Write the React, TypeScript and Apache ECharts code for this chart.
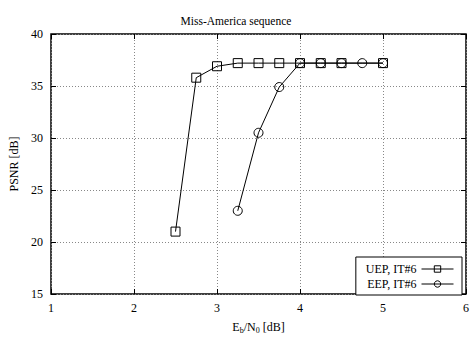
import React, { useEffect, useRef } from "react";
import * as echarts from "echarts";

const uepX = [2.5, 2.75, 3, 3.25, 3.5, 3.75, 4, 4.25, 4.5, 5];
const uepY = [21, 35.8, 36.9, 37.2, 37.2, 37.2, 37.2, 37.2, 37.2, 37.2];
const eepX = [3.25, 3.5, 3.75, 4, 4.25, 4.5, 4.75, 5];
const eepY = [23, 30.5, 34.9, 37.2, 37.2, 37.2, 37.2, 37.2];

const FONT = "'Liberation Serif', 'Times New Roman', serif";

export default function App() {
  const ref = useRef<HTMLDivElement>(null);
  useEffect(() => {
    const chart = echarts.init(ref.current!, null, { renderer: "svg" });
    const axisCommon = {
      axisLine: { show: false },
      axisTick: { show: true, inside: true, length: 5, lineStyle: { color: "#000" } },
    };
    const grid = { show: true, lineStyle: { color: "#888", type: [1, 2], width: 1 } };
    chart.setOption({
      animation: false,
      backgroundColor: "#fff",
      title: {
        text: "Miss-America sequence",
        left: "center",
        top: 10,
        textStyle: { fontFamily: FONT, fontSize: 11.5, fontWeight: "normal", color: "#000" },
      },
      grid: { left: 51, right: 2, top: 34, bottom: 42, show: true, borderColor: "#000", borderWidth: 1.5 },
      legend: {
        right: 10,
        bottom: 44,
        orient: "vertical",
        align: "right",
        itemWidth: 32,
        itemHeight: 8,
        itemGap: 3,
        padding: [6, 8, 5, 10],
        borderColor: "#000",
        borderWidth: 1,
        backgroundColor: "#fff",
        lineStyle: { width: 1 },
        itemStyle: { borderWidth: 1 },
        textStyle: { fontFamily: FONT, fontSize: 12, color: "#000" },
        data: ["UEP, IT#6", "EEP, IT#6"],
      },
      xAxis: [
        {
          type: "value",
          min: 1,
          max: 6,
          interval: 1,
          ...axisCommon,
          name: "{a|E}{s|b}{a|/N}{s|0}{a| [dB]}",
          nameLocation: "middle",
          nameGap: 26,
          nameTextStyle: {
            rich: {
              a: { fontFamily: FONT, fontSize: 12, color: "#000" },
              s: { fontFamily: FONT, fontSize: 8, color: "#000", verticalAlign: "bottom", padding: [6, 0, 0, 0] },
            },
          },
          axisLabel: { fontFamily: FONT, fontSize: 12, color: "#000", margin: 8 },
          splitLine: grid,
        },
        {
          type: "value",
          position: "top",
          min: 1,
          max: 6,
          interval: 1,
          ...axisCommon,
          axisLabel: { show: false },
          splitLine: { show: false },
        },
      ],
      yAxis: [
        {
          type: "value",
          min: 15,
          max: 40,
          interval: 5,
          ...axisCommon,
          name: "PSNR [dB]",
          nameLocation: "middle",
          nameGap: 29,
          nameTextStyle: { fontFamily: FONT, fontSize: 12, color: "#000" },
          axisLabel: { fontFamily: FONT, fontSize: 12, color: "#000", margin: 8 },
          splitLine: grid,
        },
        {
          type: "value",
          position: "right",
          min: 15,
          max: 40,
          interval: 5,
          ...axisCommon,
          axisLabel: { show: false },
          splitLine: { show: false },
        },
      ],
      series: [
        {
          name: "UEP, IT#6",
          type: "line",
          data: uepX.map((x, i) => [x, uepY[i]]),
          symbol: "rect",
          symbolSize: 9,
          lineStyle: { color: "#000", width: 1 },
          itemStyle: { color: "rgba(255,255,255,0)", borderColor: "#000", borderWidth: 1 },
        },
        {
          name: "EEP, IT#6",
          type: "line",
          data: eepX.map((x, i) => [x, eepY[i]]),
          symbol: "circle",
          symbolSize: 9,
          lineStyle: { color: "#000", width: 1 },
          itemStyle: { color: "rgba(255,255,255,0)", borderColor: "#000", borderWidth: 1 },
        },
      ],
    });
    return () => chart.dispose();
  }, []);
  return <div ref={ref} style={{ width: 472, height: 339, position: "absolute", left: 0, top: 0 }} />;
}
